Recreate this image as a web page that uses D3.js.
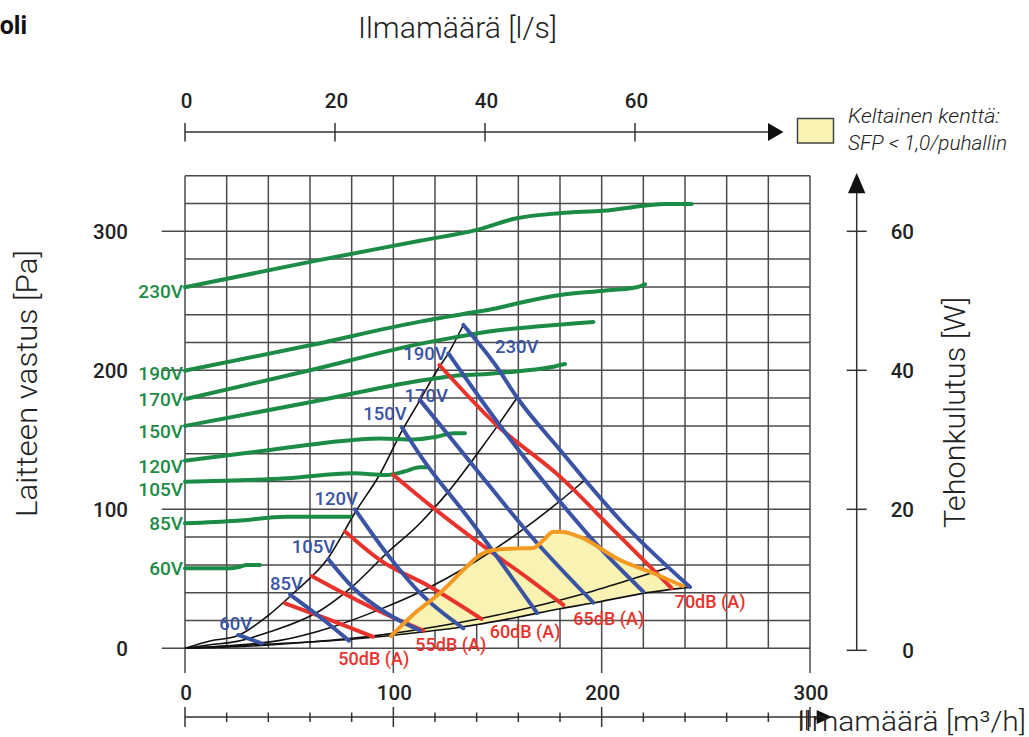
<!DOCTYPE html>
<html>
<head>
<meta charset="utf-8">
<script src="https://cdn.jsdelivr.net/npm/d3@7"></script>
<style>
  body { margin: 0; background: #fff; }
  svg { display: block; }
</style>
</head>
<body>
<svg id="chart" width="1029" height="737"></svg>
<script>
// ---- Data: airflow q [m³/h] vs pressure p [Pa] ----

// Fan curves at fixed supply voltage (green)
const fan230V = [[0,259.7],[60,278],[112.8,293.2],[140,301],[159.2,309.4],[180,313],[200.6,314.8],[231.2,319.6],[243.2,319.6]];
const fan190V = [[0,199.7],[60,218],[112.8,235],[133.6,240.5],[149.6,244.6],[160.8,248.6],[180,254.2],[200.8,257.3],[216.8,259.7],[220.8,261.9]];
const fan170V = [[0,179.3],[60,200],[112.8,219],[128.7,223.5],[149.6,228.6],[168.8,231.5],[184.8,233.5],[196,234.8]];
const fan150V = [[0,160],[60,177],[112.8,192.5],[128.8,195.9],[144.8,197.3],[160.8,199.5],[176.8,202.6],[182.4,204.5]];
const fan120V = [[0,135],[40.8,142.7],[80.8,149.9],[93.6,151],[109.6,150.2],[120.8,152.2],[128.8,154.7],[134.4,154.7]];
const fan105V = [[0,119.9],[48.8,122.3],[80.8,125.9],[96.8,124.7],[104.8,127],[112.8,130.2],[116,130.2]];
const fan85V  = [[0,89.9],[24.8,91.8],[48.8,94.7],[79.2,94.7]];
const fan60V  = [[0,57.6],[21.6,57.6],[26.4,58.7],[29.6,59.9],[36,59.9]];
const fanLabels = ["230V","190V","170V","150V","120V","105V","85V","60V"];

// Power consumption curves per voltage (blue)
const power60V  = [[25.6,9.6],[36.8,3.6]];
const power85V  = [[50.4,38.7],[64.8,22.5],[78.7,5.5]];
const power105V = [[68.8,64],[80.8,43.4],[96.8,25.2],[112.8,12.8]];
const power120V = [[81.6,100],[96.8,68.3],[112.8,39.8],[133.6,14.4]];
const power150V = [[104,159.2],[114.4,135.5],[136.8,92.3],[169,25.4]];
const power170V = [[112.8,178.6],[140,128.3],[165.6,81.5],[196,32.8]];
const power190V = [[126.4,212.2],[141.6,179.9],[157.6,147.5],[180,105.5],[199.2,72.2],[220,40.7]];
const power230V = [[133.6,232.6],[149.6,202.6],[159.2,180.8],[180,142.7],[192,121.1],[208.8,92.3],[242.4,44.1]];
const powerLabels = ["60V","85V","105V","120V","150V","170V","190V","230V"];

// Sound level lines (red)
const sound50 = [[48,32.4],[69.6,20.4],[90.4,8.3]];
const sound55 = [[60.8,52],[88.8,29.9],[114.4,12.7]];
const sound60 = [[76.8,84],[93.6,63.5],[117.6,44.3],[142.4,21.1]];
const sound65 = [[100,124.7],[119.2,101],[146.4,70],[165,50],[181.6,31.2]];
const sound70 = [[122.1,203.8],[149.6,160.6],[180,123.5],[207,83],[233.6,43.2]];
const soundLabels = ["50dB (A)","55dB (A)","60dB (A)","65dB (A)","70dB (A)"];

// System (duct) curves (black)
const systemA = [[0,0],[12,5.3],[24.8,8.8],[39.2,22.7],[52,39.6],[68,63.5],[82.4,99.5],[93.6,125.4],[104,156],[112.8,178.6],[120.8,199.5],[126.4,212.2],[133.6,232.6]];
const systemB = [[0,0],[12,2.5],[25,5],[40,11.5],[64.8,27],[80,44],[96.8,68.3],[112.8,90],[126,112],[141.6,142.7],[150,160],[159.2,179.9]];
const systemC = [[0,0],[20,1.8],[45,5.5],[70,15],[93.6,28],[112.8,40.5],[140,63],[160,83],[180,106],[192,121.1]];
const systemD = [[0,0],[30,1.5],[60,4.5],[93.6,9.5],[112.8,13.7],[150,24],[189.6,38.5],[215,50],[231.2,57.6]];
const systemE = [[0,0],[40,3],[80,6.5],[112.8,11.5],[133.6,15.5],[160,22.5],[180,28.5],[195.8,32.6],[219.8,39.5],[242.4,44]];

// SFP < 1.0 boundary (orange)
const sfpLimit = [[98.9,8.8],[110.4,25.4],[122.4,39.8],[135.2,58.7],[141.6,67.1],[148,70.7],[158.4,71.8],[167.2,72.2],[172,77.9],[176.8,83.9],[181.4,83.7],[189.6,80.1],[208.8,63.5],[224.8,54],[239,44.8]];

// Axis ticks
const flowTicks = [0,100,200,300];
const flowMinorTicks = [0,20,40,60,80,100,120,140,160,180,200,220,240,260,280,300];
const flowEndTicks = [296,298.4];
const flowLsTicks = [0,20,40,60];
const pressureTicks = [0,100,200,300];
const pressureGrid = [0,20,40,60,80,100,120,140,160,180,200,220,240,260,280,300,320,340];
const powerTicks = [0,20,40,60];

// ---- Layout ----
const svg = d3.select("#chart");
const x = d3.scaleLinear().domain([0, 300]).range([185, 810]);
const y = d3.scaleLinear().domain([0, 340]).range([648.3, 175.7]);
const xLs = d3.scaleLinear().domain([0, 300 / 3.6]).range([185, 810]);
const yW = d3.scaleLinear().domain([0, 68]).range([648.3, 175.7]);

const COL = { green: "#1c8b46", blue: "#3a54a3", red: "#e8332d", orange: "#f29a22", yellow: "#f8f3b3", grid: "#4a4a4a", text: "#222" };
const FONT = "Roboto, 'Open Sans', sans-serif";

const line = d3.line().x(d => x(d[0])).y(d => y(d[1])).curve(d3.curveMonotoneX);

// grid
const grid = svg.append("g").attr("stroke", COL.grid).attr("stroke-width", 1.5);
flowMinorTicks.forEach(v => {
  const ext = flowTicks.includes(v) ? 673 : y(0);
  grid.append("line").attr("x1", x(v)).attr("x2", x(v)).attr("y1", y(340)).attr("y2", ext);
});
pressureGrid.forEach(v => {
  const x0 = pressureTicks.includes(v) ? 161.7 : x(0);
  grid.append("line").attr("x1", x0).attr("x2", x(300)).attr("y1", y(v)).attr("y2", y(v));
});

// yellow SFP zone: below the orange boundary, above the lowest system curve
const qMin = sfpLimit[0][0], qMax = sfpLimit[sfpLimit.length - 1][0];
const zone = sfpLimit.concat(systemE.filter(d => d[0] > qMin && d[0] < qMax).reverse());
svg.append("path")
  .attr("d", d3.line().x(d => x(d[0])).y(d => y(d[1])).curve(d3.curveLinearClosed)(zone))
  .attr("fill", COL.yellow).attr("stroke", "none");

// system curves
[systemA, systemB, systemC, systemD, systemE].forEach(s => {
  svg.append("path").attr("d", line(s)).attr("fill", "none").attr("stroke", "#111").attr("stroke-width", 1.6);
});

// fan curves (green)
const fanSeries = [fan230V, fan190V, fan170V, fan150V, fan120V, fan105V, fan85V, fan60V];
const fanLabelDy = [10.7, 9.3, 7, 12, 12.3, 14.3, 6.7, 6.7];
fanSeries.forEach((s, i) => {
  svg.append("path").attr("d", line(s)).attr("fill", "none").attr("stroke", COL.green)
    .attr("stroke-width", 4).attr("stroke-linecap", "round");
  svg.append("text").attr("x", 183).attr("y", y(s[0][1]) + fanLabelDy[i])
    .attr("text-anchor", "end").attr("fill", COL.green)
    .attr("font-family", FONT).attr("font-size", 19).attr("font-weight", 500)
    .text(fanLabels[i]);
});

// sound level lines (red)
const soundSeries = [sound50, sound55, sound60, sound65, sound70];
const soundLabelPos = [[-35, 28.5], [-8, 20.5], [8, 19], [10, 20], [3, 19.5]];
soundSeries.forEach((s, i) => {
  svg.append("path").attr("d", line(s)).attr("fill", "none").attr("stroke", COL.red)
    .attr("stroke-width", 4).attr("stroke-linecap", "round");
  const e = s[s.length - 1];
  svg.append("text").attr("x", x(e[0]) + soundLabelPos[i][0]).attr("y", y(e[1]) + soundLabelPos[i][1])
    .attr("fill", COL.red).attr("font-family", FONT).attr("font-size", 18).attr("font-weight", 500)
    .text(soundLabels[i]);
});

// power lines (blue)
const powerSeries = [power60V, power85V, power105V, power120V, power150V, power170V, power190V, power230V];
const powerLabelPos = [[14, -5, "end"], [13, -4.5, "end"], [7, -6, "end"], [3, -4, "end"], [5, -7, "end"], [28, 2, "end"], [-1.6, 7, "end"], [31.7, 28, "start"]];
powerSeries.forEach((s, i) => {
  svg.append("path").attr("d", line(s)).attr("fill", "none").attr("stroke", COL.blue)
    .attr("stroke-width", 4).attr("stroke-linecap", "round");
  const p = powerLabelPos[i];
  svg.append("text").attr("x", x(s[0][0]) + p[0]).attr("y", y(s[0][1]) + p[1])
    .attr("text-anchor", p[2]).attr("fill", COL.blue)
    .attr("font-family", FONT).attr("font-size", 18.5).attr("font-weight", 500)
    .text(powerLabels[i]);
});

// SFP boundary (orange)
svg.append("path").attr("d", line(sfpLimit)).attr("fill", "none").attr("stroke", COL.orange)
  .attr("stroke-width", 4).attr("stroke-linecap", "round");

// ---- Axes ----
const axisStroke = "#333";
// left pressure labels
pressureTicks.forEach(v => {
  svg.append("text").attr("x", 128).attr("y", y(v) + 7.5).attr("text-anchor", "end")
    .attr("font-family", FONT).attr("font-size", 20.5).attr("font-weight", 500).attr("fill", COL.text).text(v);
});
svg.append("text").attr("transform", "translate(37,383.5) rotate(-90)").attr("text-anchor", "middle")
  .attr("font-family", FONT).attr("font-size", 30).attr("font-weight", 300).attr("fill", COL.text)
  .attr("textLength", 267).attr("lengthAdjust", "spacingAndGlyphs")
  .text("Laitteen vastus [Pa]");

// bottom flow axis
flowTicks.forEach(v => {
  svg.append("text").attr("x", x(v) + 1).attr("y", 699.5).attr("text-anchor", "middle")
    .attr("font-family", FONT).attr("font-size", 20.5).attr("font-weight", 500).attr("fill", COL.text).text(v);
});
const bAxis = svg.append("g").attr("stroke", axisStroke).attr("stroke-width", 1.5);
bAxis.append("line").attr("x1", x(0)).attr("x2", 820).attr("y1", 717).attr("y2", 717);
flowMinorTicks.forEach(v => {
  const major = flowTicks.includes(v);
  bAxis.append("line").attr("x1", x(v)).attr("x2", x(v)).attr("y1", major ? 707 : 712.5).attr("y2", major ? 727 : 722);
});
flowEndTicks.forEach(v => {
  bAxis.append("line").attr("x1", x(v)).attr("x2", x(v)).attr("y1", 710).attr("y2", 730);
});
svg.append("path").attr("d", "M816.7,710L832,717L816.7,724Z").attr("fill", "#111");
svg.append("text").attr("x", 797).attr("y", 731).attr("font-family", FONT).attr("font-size", 27.5)
  .attr("font-weight", 300).attr("fill", COL.text)
  .attr("textLength", 229).attr("lengthAdjust", "spacingAndGlyphs")
  .text("Ilmamäärä [m³/h]");

// top flow axis in l/s
const tAxis = svg.append("g").attr("stroke", axisStroke).attr("stroke-width", 1.5);
tAxis.append("line").attr("x1", xLs(0)).attr("x2", 770).attr("y1", 132).attr("y2", 132);
flowLsTicks.forEach(v => {
  tAxis.append("line").attr("x1", xLs(v)).attr("x2", xLs(v)).attr("y1", 123).attr("y2", 141.5);
  svg.append("text").attr("x", xLs(v) + 1.5).attr("y", 108).attr("text-anchor", "middle")
    .attr("font-family", FONT).attr("font-size", 20.5).attr("font-weight", 500).attr("fill", COL.text).text(v);
});
svg.append("path").attr("d", "M768,123L783.5,132L768,141Z").attr("fill", "#111");
svg.append("text").attr("x", 358).attr("y", 38).attr("font-family", FONT)
  .attr("font-size", 29).attr("font-weight", 300).attr("fill", COL.text)
  .attr("textLength", 199).attr("lengthAdjust", "spacingAndGlyphs")
  .text("Ilmamäärä [l/s]");

// right power axis
const rAxis = svg.append("g").attr("stroke", axisStroke).attr("stroke-width", 1.5);
rAxis.append("line").attr("x1", 856.7).attr("x2", 856.7).attr("y1", yW(0) + 2).attr("y2", 192);
powerTicks.forEach(v => {
  rAxis.append("line").attr("x1", 846.7).attr("x2", 866.7).attr("y1", yW(v) + (v === 0 ? 2 : 0)).attr("y2", yW(v) + (v === 0 ? 2 : 0));
  svg.append("text").attr("x", 914).attr("y", yW(v) + 7.5 + (v === 0 ? 2 : 0)).attr("text-anchor", "end")
    .attr("font-family", FONT).attr("font-size", 20.5).attr("font-weight", 500).attr("fill", COL.text).text(v);
});
svg.append("path").attr("d", "M848,193.3L856.7,173L865.4,193.3Z").attr("fill", "#111");
svg.append("text").attr("transform", "translate(965,412.5) rotate(-90)").attr("text-anchor", "middle")
  .attr("font-family", FONT).attr("font-size", 30).attr("font-weight", 300).attr("fill", COL.text)
  .attr("textLength", 231).attr("lengthAdjust", "spacingAndGlyphs")
  .text("Tehonkulutus [W]");

// legend
svg.append("rect").attr("x", 797.5).attr("y", 118.5).attr("width", 36).attr("height", 24.5)
  .attr("fill", COL.yellow).attr("stroke", "#444").attr("stroke-width", 1.5);
svg.append("text").attr("x", 848).attr("y", 123).attr("font-family", FONT).attr("font-style", "italic")
  .attr("font-weight", 300).attr("font-size", 21).attr("fill", COL.text)
  .attr("textLength", 152).attr("lengthAdjust", "spacingAndGlyphs").text("Keltainen kenttä:");
svg.append("text").attr("x", 848).attr("y", 150).attr("font-family", FONT).attr("font-style", "italic")
  .attr("font-weight", 300).attr("font-size", 21).attr("fill", COL.text)
  .attr("textLength", 159).attr("lengthAdjust", "spacingAndGlyphs").text("SFP < 1,0/puhallin");

// page heading fragment at the left edge
svg.append("text").attr("x", 27).attr("y", 34).attr("text-anchor", "end").attr("font-family", FONT)
  .attr("font-weight", 700).attr("font-size", 25).attr("fill", "#111").text("oli");
</script>
</body>
</html>
